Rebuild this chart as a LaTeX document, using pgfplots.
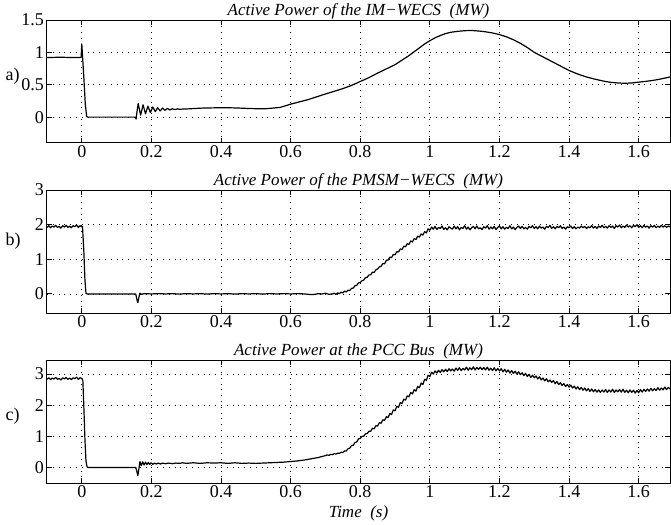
\documentclass[border=0pt]{standalone}
\usepackage{fontspec}
\setmainfont{Liberation Serif}
\usepackage{pgfplots}
\pgfplotsset{compat=1.18}
\usetikzlibrary{calc}

\pgfplotsset{
 mystyle/.style={
  width=623pt, height=123pt, scale only axis,
  xmin=-0.1, xmax=1.69,
  xtick={0,0.2,0.4,0.6,0.8,1,1.2,1.4,1.6},
  grid=major,
  major grid style={black, line width=0.8pt, dash pattern=on 0.8pt off 5pt},
  tick align=inside, major tick length=5pt,
  xtick pos=both, ytick pos=both,
  axis line style={black, line width=1pt},
  every tick/.style={black, line width=1pt},
  tick label style={font=\rmfamily\fontsize{18}{20}\selectfont},
  /pgf/number format/assume math mode=true,
  xticklabel style={inner sep=0pt, yshift=-2pt},
  yticklabel style={inner sep=0pt, xshift=-3pt},
  cycle list={{black, line width=1.2pt, line join=round, mark=none}},
 }
}

\begin{document}
\begin{tikzpicture}
% ---------------- a) IM-WECS
\begin{axis}[mystyle, name=a1, at={(0,0)}, anchor=north west,
  ymin=-0.4, ymax=1.5, ytick={0,0.5,1,1.5}]
\addplot[black, line width=1.2pt, line join=round, mark=none] coordinates {
(-0.100,0.92) (-0.060,0.925) (-0.030,0.92) (-0.002,0.92) (0.000,1.13) (0.002,0.95)
(0.006,0.60) (0.010,0.20) (0.014,0.01) (0.017,0.0) (0.154,0.0) (0.156,-0.03)
(0.159,0.10) (0.162,0.21) (0.169,0.03) (0.176,0.19) (0.183,0.05) (0.190,0.17)
(0.197,0.07) (0.204,0.155) (0.211,0.085) (0.218,0.145) (0.225,0.095) (0.232,0.14)
(0.239,0.105) (0.246,0.135) (0.253,0.11) (0.260,0.13) (0.267,0.115) (0.274,0.128)
(0.281,0.12) (0.290,0.125) (0.300,0.125) (0.320,0.132) (0.350,0.14) (0.380,0.143)
(0.400,0.145) (0.430,0.143) (0.450,0.14) (0.480,0.133) (0.500,0.13) (0.530,0.13)
(0.550,0.14) (0.570,0.15) (0.600,0.20) (0.625,0.235) (0.650,0.27) (0.690,0.34)
(0.720,0.39) (0.750,0.44) (0.775,0.49) (0.800,0.55) (0.825,0.61) (0.850,0.68)
(0.875,0.745) (0.900,0.81) (0.920,0.88) (0.940,0.95) (0.955,1.01) (0.970,1.07)
(0.985,1.13) (1.000,1.18) (1.015,1.225) (1.030,1.26) (1.045,1.29) (1.060,1.31)
(1.080,1.325) (1.100,1.335) (1.120,1.338) (1.140,1.33) (1.160,1.318) (1.180,1.30)
(1.200,1.275) (1.220,1.24) (1.240,1.195) (1.260,1.14) (1.280,1.075) (1.300,1.0)
(1.325,0.93) (1.350,0.86) (1.375,0.79) (1.400,0.72) (1.425,0.665) (1.450,0.62)
(1.475,0.585) (1.500,0.555) (1.520,0.537) (1.540,0.527) (1.560,0.523) (1.580,0.527)
(1.600,0.54) (1.620,0.552) (1.640,0.566) (1.660,0.585) (1.690,0.62)
};
\end{axis}
% ---------------- b) PMSM-WECS
\begin{axis}[mystyle, name=a2, at={(0,-170pt)}, anchor=north west,
  ymin=-0.55, ymax=3, ytick={0,1,2,3}]
\addplot[black, line width=1.2pt, line join=round, mark=none] coordinates {
(-0.100,1.92) (-0.095,1.97) (-0.090,1.91) (-0.085,1.96) (-0.080,1.93) (-0.075,1.98)
(-0.070,1.92) (-0.065,1.95) (-0.060,1.90) (-0.055,1.97) (-0.050,1.93) (-0.045,1.98)
(-0.040,1.92) (-0.035,1.96) (-0.030,1.91) (-0.025,1.97) (-0.020,1.94) (-0.015,1.99)
(-0.010,1.92) (-0.005,1.97) (0.000,1.94) (0.002,1.95) (0.006,1.20) (0.009,0.40)
(0.012,0.02) (0.015,0.0) (0.155,0.0) (0.158,-0.15) (0.161,-0.25) (0.164,-0.10)
(0.167,0.02) (0.172,-0.01) (0.180,0.01) (0.200,0.0) (0.220,0.01) (0.240,0.0)
(0.260,0.01) (0.280,-0.005) (0.300,0.01) (0.320,0.0) (0.340,0.01) (0.360,-0.005)
(0.380,0.01) (0.400,0.0) (0.420,0.01) (0.440,-0.005) (0.460,0.01) (0.480,0.0)
(0.500,0.01) (0.520,-0.005) (0.540,0.01) (0.560,0.0) (0.580,0.01) (0.600,0.0)
(0.620,0.01) (0.640,0.0) (0.660,-0.02) (0.670,-0.01) (0.680,0.01) (0.690,0.0)
(0.700,0.02) (0.710,-0.01) (0.720,0.00) (0.725,0.02) (0.730,-0.01) (0.735,0.03)
(0.740,0.01) (0.745,0.05) (0.750,0.03) (0.755,0.08) (0.760,0.06) (0.765,0.11)
(0.770,0.10) (0.775,0.16) (0.780,0.17) (0.785,0.24) (0.790,0.25) (0.795,0.32)
(0.800,0.33) (0.805,0.38) (0.810,0.40) (0.815,0.47) (0.820,0.48) (0.825,0.55)
(0.830,0.55) (0.835,0.63) (0.840,0.62) (0.845,0.70) (0.850,0.72) (0.855,0.78)
(0.860,0.80) (0.865,0.88) (0.870,0.87) (0.875,0.97) (0.880,0.98) (0.885,1.06)
(0.890,1.05) (0.895,1.14) (0.900,1.13) (0.905,1.22) (0.910,1.21) (0.915,1.30)
(0.920,1.28) (0.925,1.38) (0.930,1.36) (0.935,1.45) (0.940,1.43) (0.945,1.53)
(0.950,1.50) (0.955,1.60) (0.960,1.57) (0.965,1.67) (0.970,1.64) (0.975,1.73)
(0.980,1.70) (0.985,1.80) (0.990,1.76) (0.995,1.88) (1.000,1.84) (1.005,1.93)
(1.010,1.87) (1.015,1.95) (1.020,1.86) (1.025,1.92) (1.030,1.89) (1.035,1.96)
(1.040,1.86) (1.045,1.91) (1.050,1.85) (1.055,1.94) (1.060,1.90) (1.065,1.87)
(1.070,1.96) (1.075,1.88) (1.080,1.94) (1.085,1.85) (1.090,1.92) (1.095,1.89)
(1.100,1.97) (1.105,1.87) (1.110,1.93) (1.115,1.85) (1.120,1.91) (1.125,1.95)
(1.130,1.88) (1.135,1.96) (1.140,1.88) (1.145,1.91) (1.150,1.86) (1.155,1.94)
(1.160,1.90) (1.165,1.97) (1.170,1.87) (1.175,1.93) (1.180,1.88) (1.185,1.95)
(1.190,1.86) (1.195,1.92) (1.200,1.96) (1.205,1.88) (1.210,1.94) (1.215,1.87)
(1.220,1.92) (1.225,1.89) (1.230,1.97) (1.235,1.88) (1.240,1.93) (1.245,1.86)
(1.250,1.92) (1.255,1.96) (1.260,1.89) (1.265,1.95) (1.270,1.88) (1.275,1.92)
(1.280,1.87) (1.285,1.95) (1.290,1.91) (1.295,1.97) (1.300,1.89) (1.305,1.94)
(1.310,1.88) (1.315,1.96) (1.320,1.90) (1.325,1.93) (1.330,1.87) (1.335,1.95)
(1.340,1.92) (1.345,1.98) (1.350,1.89) (1.355,1.94) (1.360,1.88) (1.365,1.95)
(1.370,1.91) (1.375,1.97) (1.380,1.89) (1.385,1.93) (1.390,1.87) (1.395,1.94)
(1.400,1.91) (1.405,1.96) (1.410,1.89) (1.415,1.94) (1.420,1.88) (1.425,1.93)
(1.430,1.90) (1.435,1.96) (1.440,1.91) (1.445,1.95) (1.450,1.89) (1.455,1.94)
(1.460,1.91) (1.465,1.97) (1.470,1.90) (1.475,1.95) (1.480,1.89) (1.485,1.96)
(1.490,1.92) (1.495,1.98) (1.500,1.91) (1.505,1.95) (1.510,1.90) (1.515,1.97)
(1.520,1.92) (1.525,1.96) (1.530,1.89) (1.535,1.97) (1.540,1.93) (1.545,1.99)
(1.550,1.91) (1.555,1.96) (1.560,1.92) (1.565,1.99) (1.570,1.93) (1.575,1.97)
(1.580,1.91) (1.585,1.98) (1.590,1.94) (1.595,2.00) (1.600,1.92) (1.605,1.97)
(1.610,1.91) (1.615,1.98) (1.620,1.93) (1.625,1.96) (1.630,1.90) (1.635,1.97)
(1.640,1.93) (1.645,1.98) (1.650,1.91) (1.655,1.96) (1.660,1.92) (1.665,1.98)
(1.670,1.93) (1.675,1.97) (1.680,1.92) (1.685,1.96) (1.690,1.94)
};
\end{axis}
% ---------------- c) PCC bus
\begin{axis}[mystyle, name=a3, at={(0,-340pt)}, anchor=north west,
  ymin=-0.5, ymax=3.45, ytick={0,1,2,3}]
\addplot[black, line width=1.2pt, line join=round, mark=none] coordinates {
(-0.100,2.83) (-0.095,2.88) (-0.090,2.82) (-0.085,2.87) (-0.080,2.84) (-0.075,2.89)
(-0.070,2.83) (-0.065,2.86) (-0.060,2.81) (-0.055,2.88) (-0.050,2.84) (-0.045,2.89)
(-0.040,2.83) (-0.035,2.87) (-0.030,2.82) (-0.025,2.88) (-0.020,2.85) (-0.015,2.90)
(-0.010,2.83) (-0.005,2.88) (0.000,2.86) (0.003,2.80) (0.006,1.90) (0.009,0.90)
(0.012,0.20) (0.015,0.02) (0.018,0.0) (0.155,0.0) (0.158,-0.12) (0.161,-0.26)
(0.164,-0.05) (0.167,0.19) (0.171,0.06) (0.175,0.18) (0.179,0.08) (0.183,0.17)
(0.187,0.09) (0.191,0.16) (0.195,0.10) (0.199,0.15) (0.204,0.10) (0.209,0.14)
(0.214,0.11) (0.220,0.14) (0.226,0.11) (0.232,0.14) (0.240,0.12) (0.250,0.14)
(0.260,0.12) (0.270,0.14) (0.280,0.13) (0.290,0.15) (0.300,0.13) (0.320,0.15)
(0.340,0.13) (0.360,0.15) (0.380,0.14) (0.400,0.15) (0.420,0.13) (0.440,0.15)
(0.460,0.13) (0.480,0.14) (0.500,0.13) (0.520,0.14) (0.540,0.15) (0.560,0.16)
(0.580,0.17) (0.600,0.19) (0.620,0.21) (0.640,0.24) (0.660,0.28) (0.680,0.32)
(0.700,0.38) (0.705,0.40) (0.710,0.39) (0.715,0.42) (0.720,0.41) (0.725,0.44)
(0.730,0.43) (0.735,0.46) (0.740,0.45) (0.745,0.49) (0.750,0.48) (0.755,0.53)
(0.760,0.53) (0.765,0.60) (0.770,0.62) (0.775,0.70) (0.780,0.71) (0.785,0.80)
(0.790,0.82) (0.795,0.92) (0.800,0.93) (0.805,1.00) (0.810,1.00) (0.815,1.08)
(0.820,1.09) (0.825,1.16) (0.830,1.16) (0.835,1.26) (0.840,1.24) (0.845,1.34)
(0.850,1.33) (0.855,1.44) (0.860,1.42) (0.865,1.53) (0.870,1.51) (0.875,1.63)
(0.880,1.60) (0.885,1.73) (0.890,1.70) (0.895,1.85) (0.900,1.82) (0.905,1.96)
(0.910,1.93) (0.915,2.08) (0.920,2.05) (0.925,2.19) (0.930,2.16) (0.935,2.30)
(0.940,2.27) (0.945,2.41) (0.950,2.36) (0.955,2.50) (0.960,2.45) (0.965,2.60)
(0.970,2.56) (0.975,2.71) (0.980,2.66) (0.985,2.83) (0.990,2.80) (0.995,2.96)
(1.000,2.92) (1.005,3.06) (1.010,3.00) (1.015,3.10) (1.020,3.03) (1.025,3.12)
(1.030,3.05) (1.035,3.14) (1.040,3.07) (1.045,3.15) (1.050,3.08) (1.055,3.17)
(1.060,3.10) (1.065,3.16) (1.070,3.09) (1.075,3.19) (1.080,3.12) (1.085,3.20)
(1.090,3.11) (1.095,3.18) (1.100,3.13) (1.105,3.22) (1.110,3.12) (1.115,3.20)
(1.120,3.14) (1.125,3.23) (1.130,3.13) (1.135,3.21) (1.140,3.15) (1.145,3.22)
(1.150,3.14) (1.155,3.21) (1.160,3.13) (1.165,3.22) (1.170,3.12) (1.175,3.19)
(1.180,3.11) (1.185,3.20) (1.190,3.10) (1.195,3.18) (1.200,3.10) (1.205,3.17)
(1.210,3.07) (1.215,3.15) (1.220,3.06) (1.225,3.13) (1.230,3.03) (1.235,3.11)
(1.240,3.02) (1.245,3.09) (1.250,3.00) (1.255,3.07) (1.260,2.98) (1.265,3.04)
(1.270,2.95) (1.275,3.02) (1.280,2.92) (1.285,2.99) (1.290,2.89) (1.295,2.96)
(1.300,2.88) (1.305,2.94) (1.310,2.84) (1.315,2.91) (1.320,2.81) (1.325,2.87)
(1.330,2.78) (1.335,2.85) (1.340,2.75) (1.345,2.81) (1.350,2.73) (1.355,2.79)
(1.360,2.69) (1.365,2.76) (1.370,2.66) (1.375,2.72) (1.380,2.63) (1.385,2.69)
(1.390,2.60) (1.395,2.66) (1.400,2.58) (1.405,2.64) (1.410,2.55) (1.415,2.61)
(1.420,2.52) (1.425,2.59) (1.430,2.50) (1.435,2.57) (1.440,2.48) (1.445,2.55)
(1.450,2.46) (1.455,2.53) (1.460,2.44) (1.465,2.52) (1.470,2.43) (1.475,2.50)
(1.480,2.42) (1.485,2.49) (1.490,2.41) (1.495,2.49) (1.500,2.42) (1.505,2.50)
(1.510,2.41) (1.515,2.49) (1.520,2.42) (1.525,2.51) (1.530,2.41) (1.535,2.49)
(1.540,2.43) (1.545,2.50) (1.550,2.42) (1.555,2.51) (1.560,2.41) (1.565,2.48)
(1.570,2.40) (1.575,2.49) (1.580,2.41) (1.585,2.48) (1.590,2.39) (1.595,2.47)
(1.600,2.40) (1.605,2.50) (1.610,2.42) (1.615,2.51) (1.620,2.44) (1.625,2.52)
(1.630,2.45) (1.635,2.54) (1.640,2.46) (1.645,2.53) (1.650,2.47) (1.655,2.56)
(1.660,2.48) (1.665,2.55) (1.670,2.49) (1.675,2.58) (1.680,2.50) (1.685,2.57)
(1.690,2.52)
};
\end{axis}
% titles and labels
\begin{scope}[font=\rmfamily\itshape\fontsize{17}{19}\selectfont]
\node[anchor=base] at ([yshift=5pt]a1.north) {Active Power of the IM−WECS\ \ (MW)};
\node[anchor=base] at ([yshift=5pt]a2.north) {Active Power of the PMSM−WECS\ \ (MW)};
\node[anchor=base] at ([yshift=5pt]a3.north) {Active Power at the PCC Bus\ \ (MW)};
\node[anchor=base] at ([yshift=-34pt]a3.south) {Time\ \ (s)};
\end{scope}
\begin{scope}[font=\rmfamily\fontsize{18}{20}\selectfont]
\node[anchor=west] at ([xshift=-45pt]$(a1.north west)!0.455!(a1.south west)$) {a)};
\node[anchor=west] at ([xshift=-45pt]$(a2.north west)!0.42!(a2.south west)$) {b)};
\node[anchor=west] at ([xshift=-45pt]$(a3.north west)!0.455!(a3.south west)$) {c)};
\end{scope}
\pgfresetboundingbox
\path ([xshift=-47pt,yshift=20pt]a1.north west) rectangle ([xshift=1pt,yshift=-41pt]a3.south east);
\end{tikzpicture}
\end{document}
